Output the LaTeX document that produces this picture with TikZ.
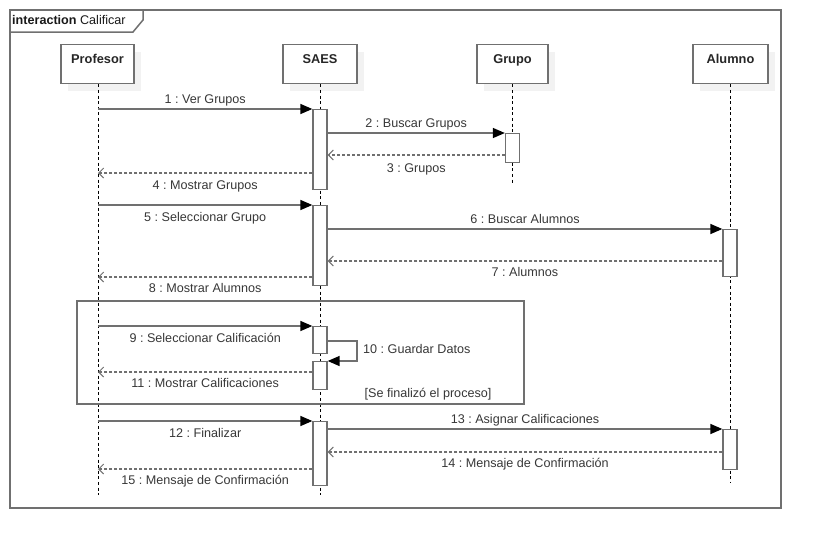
\documentclass[tikz,border=0pt]{standalone}
\usepackage{fontspec}
\setmainfont{Liberation Sans}
\usetikzlibrary{arrows.meta,shadows,calc}
\definecolor{lc}{RGB}{112,112,112}
\definecolor{tc}{RGB}{55,55,55}
\definecolor{shc}{RGB}{242,242,242}
\frenchspacing
\begin{document}
\begin{tikzpicture}[x=1pt,y=-1pt,
  lbl/.style={font=\fontsize{12.6}{14}\selectfont, text=tc, inner sep=0pt, text height=9pt, text depth=3pt},
  head/.style={draw=lc, line width=1.3pt, fill=white, minimum width=73pt, anchor=north, inner sep=0pt,
    text height=18.6pt, text depth=20.4pt, font=\bfseries\fontsize{12.8}{14}\selectfont, text=black!85,
    drop shadow={shadow xshift=7pt, shadow yshift=-7pt, fill=shc, opacity=1}},
  bar/.style={draw=lc, line width=1.3pt, fill=white, minimum width=14pt, anchor=north, inner sep=0pt},
  life/.style={black, line width=0.8pt, dash pattern=on 3pt off 2.6pt},
  sync/.style={draw=lc, line width=1.4pt, -{Triangle[length=12pt,width=10pt,color=black]}},
  ret/.style={draw=lc, line width=1.4pt, dash pattern=on 3pt off 2pt, -{Straight Barb[length=5pt,width=10pt,line width=1pt]}},
  framec/.style={draw=lc, line width=1.5pt}
]
\useasboundingbox (0,0) rectangle (821,549);
% frame
\draw[framec] (10,10) rectangle (781,508);
\draw[framec] (10,32) -- (133,32) -- (143,20) -- (143,10);
\node[lbl, anchor=west, text=black!90] (tab) at (12,21) {\textbf{interaction} Calificar};
% headers
\node[head] (hP) at (97.5,44) {Profesor};
\node[head, minimum width=74pt] (hS) at (320,44) {SAES};
\node[head, minimum width=71pt] (hG) at (512.5,44) {Grupo};
\node[head, minimum width=75pt] (hA) at (730.5,44) {Alumno};
% lifelines
\draw[life] (hP.south -| 98,0) -- (98,495);
\draw[life] (hS.south) -- (hS.south |- 0,495);
\draw[life] (hG.south) -- (hG.south |- 0,184);
\draw[life] (hA.south) -- (hA.south |- 0,483);
\coordinate (lP) at (98,84);
% loop fragment
\draw[framec] (77,301) rectangle (524,404);
\node[lbl] (guard) at (428,394) {[Se finalizó el proceso]};
% activation bars
\node[bar, minimum height=80pt] (b1) at (320,109) {};
\node[bar, minimum height=29pt] (b2) at (512.5,133) {};
\node[bar, minimum height=80pt] (b3) at (320,205) {};
\node[bar, minimum height=47pt] (b4) at (730,229) {};
\node[bar, minimum height=27pt] (b5) at (320,326) {};
\node[bar, minimum height=28pt] (b6) at (320,361) {};
\node[bar, minimum height=64pt] (b7) at (320,421) {};
\node[bar, minimum height=40pt] (b8) at (730,429) {};
% messages
\draw[sync] (b1.north west -| lP) -- node[lbl, above=2pt] {1 : Ver Grupos} (b1.north west);
\draw[sync] (b1.east |- b2.north) -- node[lbl, above=2pt] {2 : Buscar Grupos} (b2.north west);
\draw[ret] (b2.west |- 0,155) -- node[lbl, below=8pt] {3 : Grupos} (b1.east |- 0,155);
\draw[ret] (b1.west |- 0,173) -- node[lbl, below=7pt] {4 : Mostrar Grupos} (lP |- 0,173);
\draw[sync] (b3.north west -| lP) -- node[lbl, below=7pt] {5 : Seleccionar Grupo} (b3.north west);
\draw[sync] (b3.east |- b4.north) -- node[lbl, above=2pt] {6 : Buscar Alumnos} (b4.north west);
\draw[ret] (b4.west |- 0,261) -- node[lbl, below=6pt] {7 : Alumnos} (b3.east |- 0,261);
\draw[ret] (b3.west |- 0,277) -- node[lbl, below=6pt] {8 : Mostrar Alumnos} (lP |- 0,277);
\draw[sync] (b5.north west -| lP) -- node[lbl, below=7pt] {9 : Seleccionar Calificación} (b5.north west);
\draw[sync] (b5.east |- 0,341) -- (357,341) -- (357,361) -- (b6.north east);
\node[lbl, anchor=west] (l10) at (363,350) {10 : Guardar Datos};
\draw[ret] (b6.west |- 0,372) -- node[lbl, below=6pt] {11 : Mostrar Calificaciones} (lP |- 0,372);
\draw[sync] (b7.north west -| lP) -- node[lbl, below=7pt] {12 : Finalizar} (b7.north west);
\draw[sync] (b7.east |- b8.north) -- node[lbl, above=2pt] {13 : Asignar Calificaciones} (b8.north west);
\draw[ret] (b8.west |- 0,452) -- node[lbl, below=6pt] {14 : Mensaje de Confirmación} (b7.east |- 0,452);
\draw[ret] (b7.west |- 0,469) -- node[lbl, below=6pt] {15 : Mensaje de Confirmación} (lP |- 0,469);
\end{tikzpicture}
\end{document}
